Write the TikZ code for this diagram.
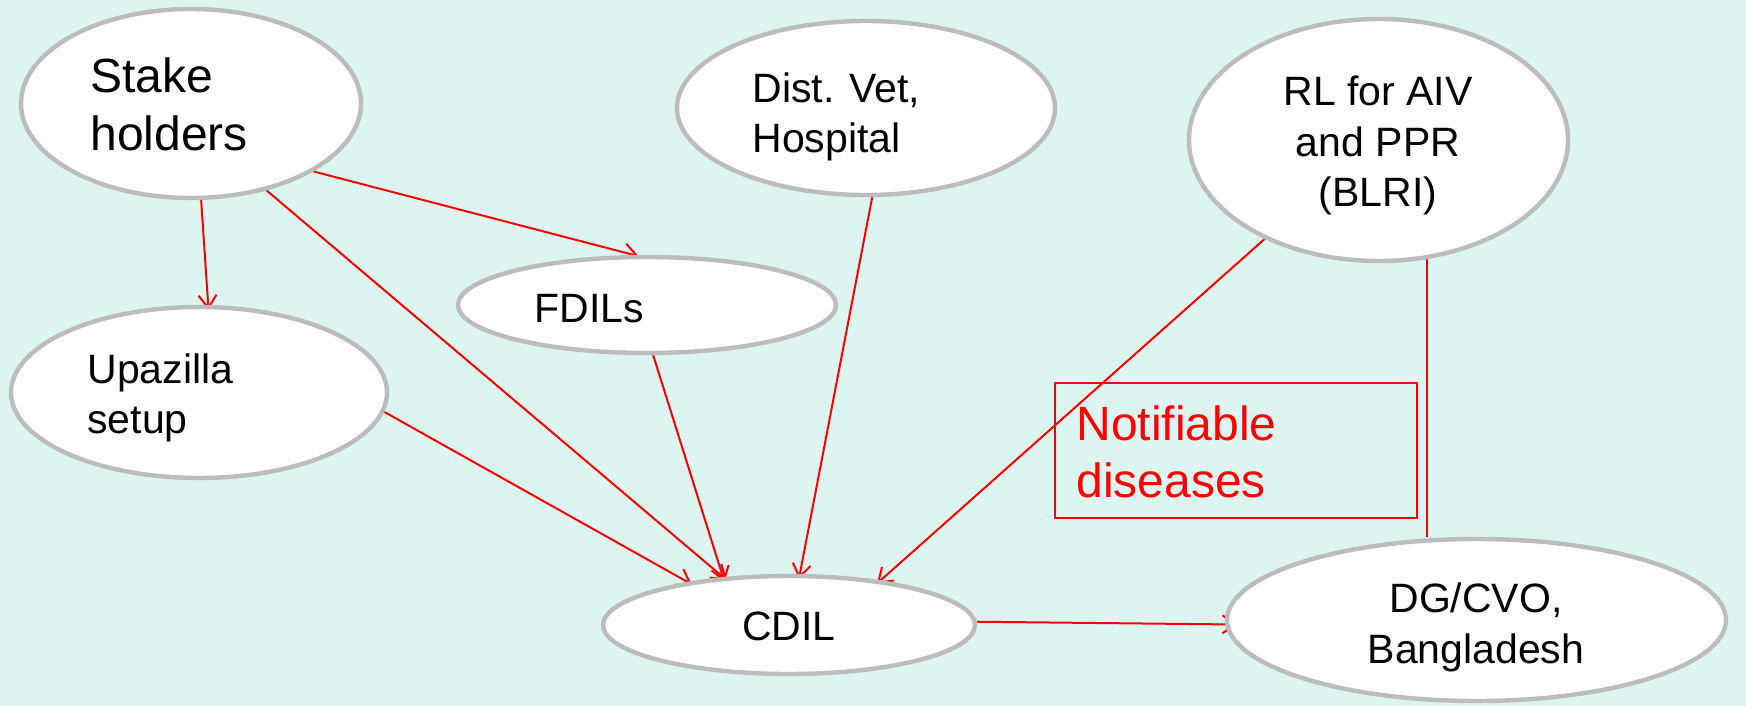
\documentclass[tikz,border=0pt]{standalone}
\usepackage{fontspec}
\setmainfont{Liberation Sans}
\usetikzlibrary{arrows.meta,shapes.geometric}
\pgfdeclarelayer{bg}
\pgfsetlayers{bg,main}
\definecolor{bgc}{RGB}{220,245,240}
\definecolor{bord}{RGB}{188,188,188}
\newcommand\ctrline[1]{\hbox to 0pt{\hss #1\hss}}
\tikzset{
  ell/.style={ellipse, draw=bord, line width=2.2pt, fill=white, inner sep=0pt},
  arr/.style={draw=red, line width=1pt, shorten >=-2.5pt, -{Straight Barb[length=6.5pt,width=9pt,line width=1pt]}},
  lnk/.style={draw=red, line width=1pt},
  txt/.style={inner sep=0pt, anchor=base west, font=\fontsize{20.5}{25}\selectfont},
  txtc/.style={inner sep=0pt, anchor=base, font=\fontsize{20.5}{25.5}\selectfont},
  bigtxt/.style={inner sep=0pt, anchor=base west, font=\fontsize{24}{28.5}\selectfont},
  notebox/.style={draw=red, line width=0.75pt, inner sep=0pt}
}
\begin{document}
\begin{tikzpicture}[x=0.5pt,y=-0.5pt]
\useasboundingbox (0,0) rectangle (1746,706);
\begin{pgfonlayer}{bg}
\fill[bgc] (0,0) rectangle (1746,706);
\end{pgfonlayer}
% ellipses
\node[ell, minimum width=170pt, minimum height=94.5pt] (sh) at (191,103.5) {};
\node[ell, minimum width=189pt, minimum height=87pt] (dv) at (866,108) {};
\node[ell, minimum width=189.5pt, minimum height=121pt] (rl) at (1378.5,140) {};
\node[ell, minimum width=189pt, minimum height=48pt] (fd) at (647,305) {};
\node[ell, minimum width=188pt, minimum height=85.5pt] (up) at (199,392.5) {};
\node[ell, minimum width=186pt, minimum height=49pt] (cdil) at (789,625) {};
\node[ell, minimum width=249.5pt, minimum height=81pt] (dg) at (1476.5,620) {};
\node[notebox, minimum width=181pt, minimum height=67.5pt] (nb) at (1236,450.5) {};
% texts
\node[bigtxt] (tsh) at (90,93) {\vtop{\hbox{Stake}\hbox{holders}}};
\node[txt] (tdv) at (752,103) {\vtop{\hbox{Dist. Vet,}\hbox{Hospital}}};
\node[txtc] (trl) at (1378,105) {\vtop{\ctrline{RL for AIV}\ctrline{and PPR}\ctrline{(BLRI)}}};
\node[txt] (tfd) at (534,322) {FDILs};
\node[txt] (tup) at (87,383) {\vtop{\hbox{Upazilla}\hbox{setup}}};
\node[txtc] (tcdil) at (789,640) {CDIL};
\node[txtc] (tdg) at (1476,612) {\vtop{\ctrline{DG/CVO,}\ctrline{Bangladesh}}};
\node[bigtxt, text=red] (tnb) at (1076,440) {\vtop{\hbox{Notifiable}\hbox{diseases}}};
% connectors
\begin{pgfonlayer}{bg}
\draw[arr] (sh.-84.7) -- (up.84.2);
\draw[arr] (sh.-49.5) -- (cdil.144.8);
\draw[arr] (sh.-29.1) -- (fd.105.4);
\draw[arr] (fd.-83.5) -- (cdil.144.8);
\draw[arr] (up.-6.9) -- (cdil.157.6);
\draw[arr] (dv.-86.3) -- (cdil.78.3);
\draw[arr] (rl.-139.7) -- (cdil.26.1);
\draw[lnk] (rl.-68.4) -- (rl.-68.4 |- dg.north);
\draw[arr, shorten >=-6pt] (cdil.1) -- (dg.181.5);
\end{pgfonlayer}
\end{tikzpicture}
\end{document}
